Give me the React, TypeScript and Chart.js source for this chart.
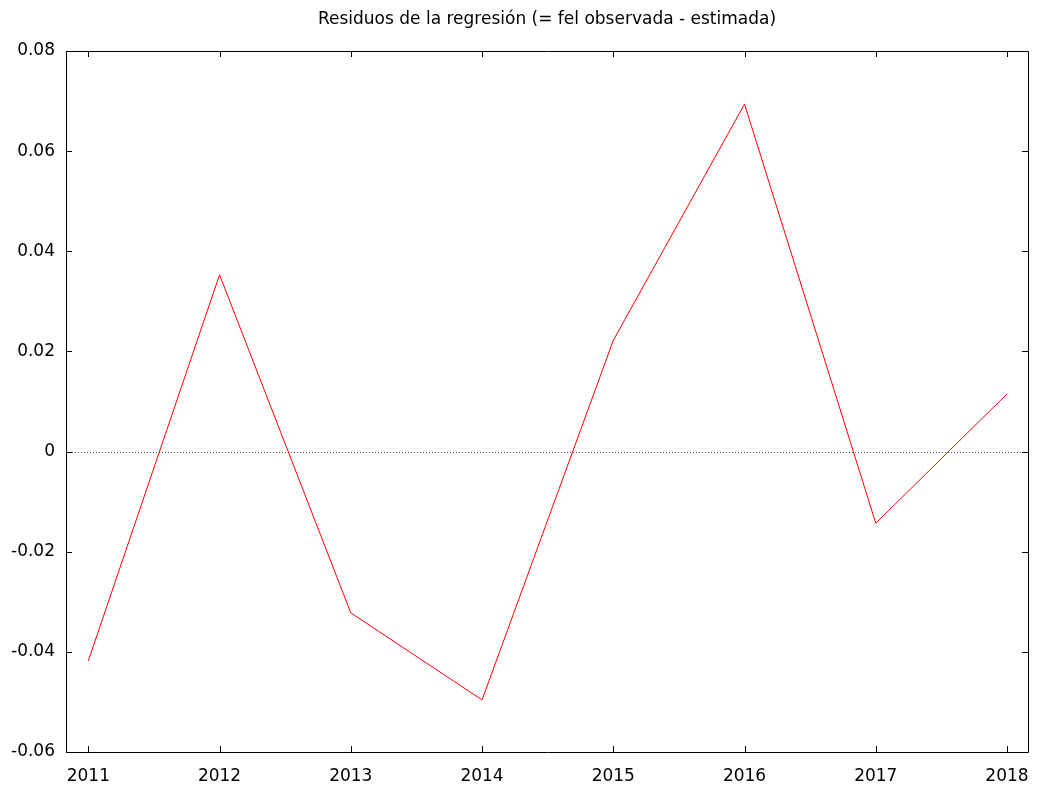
import React, { useEffect, useRef } from "react";
import { Chart, registerables } from "chart.js";

Chart.register(...registerables);

const TITLE = "Residuos de la regresión (= fel observada - estimada)";
const years = [2011, 2012, 2013, 2014, 2015, 2016, 2017, 2018];
const residuals = [-0.0418, 0.0353, -0.0322, -0.0496, 0.0222, 0.0694, -0.0143, 0.0115];
const yTicks = [-0.06, -0.04, -0.02, 0, 0.02, 0.04, 0.06, 0.08];
const xMin = 2010.83;
const xMax = 2018.16;
const FONT = "'DejaVu Sans', Verdana, sans-serif";

const framePlugin = {
  id: "gnuframe",
  beforeDatasetsDraw(chart: any) {
    const { ctx, chartArea: a, scales } = chart;
    const y0 = scales.y.getPixelForValue(0);
    ctx.save();
    ctx.strokeStyle = "#555";
    ctx.lineWidth = 1;
    ctx.setLineDash([1, 2]);
    ctx.beginPath();
    ctx.moveTo(a.left, Math.round(y0) + 0.5);
    ctx.lineTo(a.right, Math.round(y0) + 0.5);
    ctx.stroke();
    ctx.restore();
  },
  afterDatasetsDraw(chart: any) {
    const { ctx, chartArea: a, scales } = chart;
    ctx.save();
    ctx.strokeStyle = "#000";
    ctx.lineWidth = 1;
    ctx.beginPath();
    ctx.rect(Math.round(a.left) + 0.5, Math.round(a.top) + 0.5, Math.round(a.right - a.left), Math.round(a.bottom - a.top));
    ctx.stroke();
    const t = 6;
    ctx.beginPath();
    for (const v of yTicks) {
      const py = Math.round(scales.y.getPixelForValue(v)) + 0.5;
      ctx.moveTo(a.left, py);
      ctx.lineTo(a.left + t, py);
      ctx.moveTo(a.right, py);
      ctx.lineTo(a.right - t, py);
    }
    for (const v of years) {
      const px = Math.round(scales.x.getPixelForValue(v)) + 0.5;
      ctx.moveTo(px, a.bottom);
      ctx.lineTo(px, a.bottom - t);
      ctx.moveTo(px, a.top);
      ctx.lineTo(px, a.top + t);
    }
    ctx.stroke();
    ctx.fillStyle = "#000";
    ctx.font = `17px ${FONT}`;
    ctx.textAlign = "center";
    ctx.textBaseline = "middle";
    ctx.fillText(TITLE, (a.left + a.right) / 2, 20);
    ctx.restore();
  },
};

export default function App() {
  const ref = useRef<HTMLCanvasElement | null>(null);
  useEffect(() => {
    if (!ref.current) return;
    const chart = new Chart(ref.current, {
      type: "line",
      data: {
        datasets: [
          {
            data: years.map((x, i) => ({ x, y: residuals[i] })),
            borderColor: "#ff0000",
            borderWidth: 1,
            pointRadius: 0,
            fill: false,
            tension: 0,
          },
        ],
      },
      options: {
        animation: false,
        responsive: false,
        maintainAspectRatio: false,
        layout: { padding: { top: 51, right: 12, left: 0, bottom: 0 } },
        plugins: { legend: { display: false }, title: { display: false }, tooltip: { enabled: false } },
        scales: {
          x: {
            type: "linear",
            min: xMin,
            max: xMax,
            afterBuildTicks: (s: any) => {
              s.ticks = years.map((v) => ({ value: v }));
            },
            afterFit: (s: any) => {
              s.height = 33;
              s.paddingLeft = 0;
              s.paddingRight = 0;
            },
            grid: { display: false, drawTicks: false },
            border: { display: false },
            ticks: {
              color: "#000",
              font: { family: FONT, size: 17 },
              padding: 14,
              maxRotation: 0,
              autoSkip: false,
              callback: (v: any) => String(v),
            },
          },
          y: {
            type: "linear",
            min: -0.06,
            max: 0.08,
            afterBuildTicks: (s: any) => {
              s.ticks = yTicks.map((v) => ({ value: v }));
            },
            afterFit: (s: any) => {
              s.width = 66;
              s.paddingTop = 0;
              s.paddingBottom = 0;
            },
            grid: { display: false, drawTicks: false },
            border: { display: false },
            ticks: {
              color: "#000",
              font: { family: FONT, size: 17 },
              padding: 11,
              autoSkip: false,
              callback: (v: any) => (Math.abs(v) < 1e-9 ? "0" : String(Math.round(v * 100) / 100)),
            },
          },
        },
      },
      plugins: [framePlugin],
    } as any);
    return () => chart.destroy();
  }, []);
  return (
    <div style={{ position: "absolute", left: 0, top: 0, width: 1040, height: 785, background: "#fff" }}>
      <canvas ref={ref} width={1040} height={785} style={{ display: "block" }} />
    </div>
  );
}
